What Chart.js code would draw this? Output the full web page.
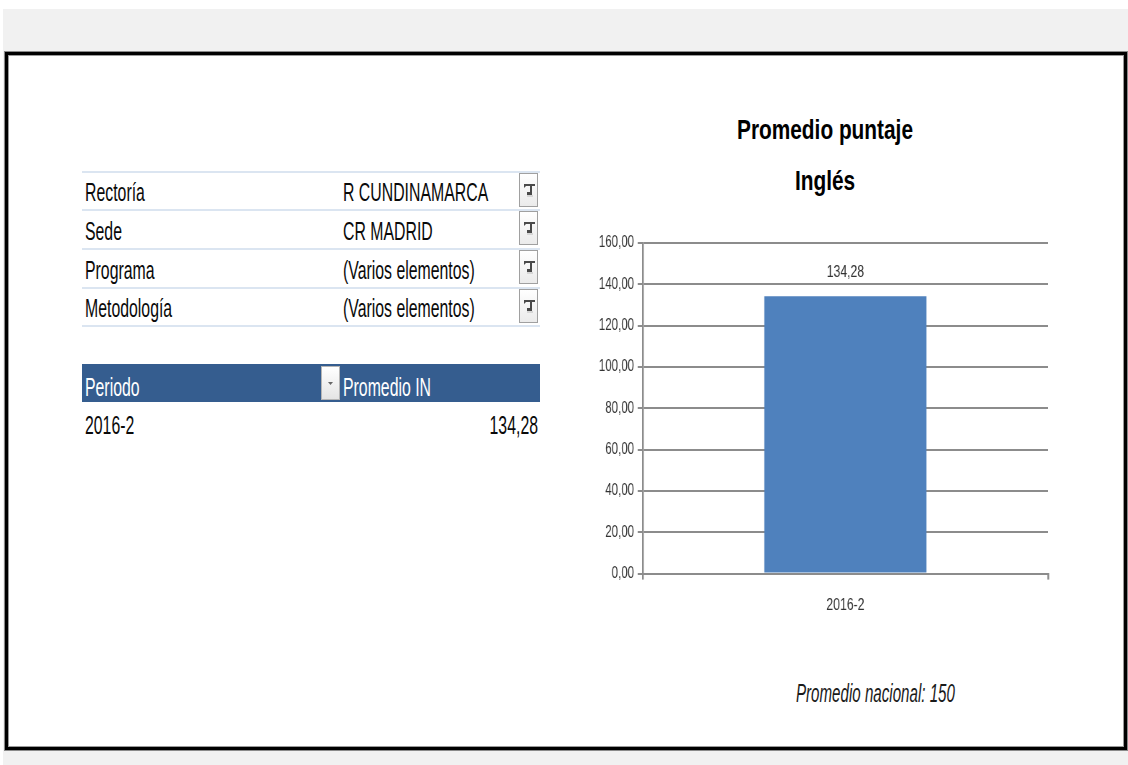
<!DOCTYPE html>
<html>
<head>
<meta charset="utf-8">
<script src="https://cdn.jsdelivr.net/npm/chart.js@4.4.0/dist/chart.umd.min.js"></script>
<style>
  html, body { margin: 0; padding: 0; background: #ffffff; width: 1128px; height: 765px; overflow: hidden; }
  body { position: relative; font-family: "Liberation Sans", Arial, sans-serif; }
  #bg { position: absolute; left: 3px; top: 9px; width: 1125px; height: 756px; background: #f1f1f1; }
  #sheet { position: absolute; left: 5px; top: 52px; width: 1116px; height: 692px; background: #fff;
           border: 3px solid #000; box-shadow: 0 0 0 1px #8a8a8a, inset 0 0 0 1px #9a9a9a; }
  .t { position: absolute; font-size: 22px; color: #0a0a0a; white-space: nowrap; line-height: 26px;
       transform: scale(0.72, 1.2); transform-origin: 0 50%; }
  .r { text-align: right; transform-origin: 100% 50%; }
  .hl { position: absolute; left: 82px; width: 458px; height: 2px; background: #dbe5f1; }
  .fb { position: absolute; left: 519px; width: 19px; height: 34px; border: 1px solid #a0a0a0;
        background: linear-gradient(#ffffff, #ebebeb); box-sizing: border-box; }
  .fb svg { position: absolute; left: 3px; top: 8px; }
  #hdr { position: absolute; left: 82px; top: 364px; width: 458px; height: 38px; background: #355d8f; }
  #dd { position: absolute; left: 321px; top: 366px; width: 19px; height: 34px; box-sizing: border-box;
        border: 1px solid #b5b5b5; background: linear-gradient(#ffffff, #e4e4e4); }
  .title { position: absolute; left: 625px; width: 400px; text-align: center; font-weight: bold;
           font-size: 28px; line-height: 32px; color: #000; transform: scaleX(0.744); transform-origin: 50% 50%; }
  #chartWrap { position: absolute; left: 570px; top: 220px; width: 680px; height: 420px;
               transform: scaleX(0.72); transform-origin: 0 0; }
</style>
</head>
<body>
<div id="bg"></div>
<div id="sheet"></div>

<!-- filter table -->
<div class="hl" style="top:171px"></div>
<div class="hl" style="top:209px"></div>
<div class="hl" style="top:248px"></div>
<div class="hl" style="top:287px"></div>
<div class="hl" style="top:325px"></div>

<div id="filters"></div>

<div id="hdr"></div>
<div id="dd"><svg width="17" height="32"><polygon points="6,15 11,15 8.5,18" fill="#666"/></svg></div>
<div class="t" style="left:85px; top:375px; color:#fff;">Periodo</div>
<div class="t" style="left:343px; top:375px; color:#fff;">Promedio IN</div>
<div id="rows"></div>

<div id="titles"></div>

<div class="t" style="left:796px; top:681px; font-style:italic; font-size:21px; color:#1a1a1a;">Promedio nacional: 150</div>

<div id="chartWrap"><canvas id="c"></canvas></div>

<script>
// ---- data ----
const filterNames = ["Rectoría", "Sede", "Programa", "Metodología"];
const filterValues = ["R CUNDINAMARCA", "CR MADRID", "(Varios elementos)", "(Varios elementos)"];
const categories = ["2016-2"];
const promedioIN = [134.28];
const yTicks = [0, 20, 40, 60, 80, 100, 120, 140, 160];
const titleLines = ["Promedio puntaje", "Inglés"];

const fmt = v => v.toFixed(2).replace(".", ",");

// ---- titles (HTML) ----
const titleTops = [114, 165];
const tWrap = document.getElementById("titles");
titleLines.forEach((s, i) => {
  const d = document.createElement("div");
  d.className = "title"; d.style.top = titleTops[i] + "px"; d.textContent = s;
  tWrap.appendChild(d);
});

// ---- filter rows (HTML) ----
const rowTops = [180, 219, 258, 296];
const btnTops = [173, 211, 250, 289];
const fWrap = document.getElementById("filters");
const funnel = '<svg width="13" height="16"><path d="M1,2 L12,2 L12,4 L9,4 L9,13 L4,13 L4,10 L7,10 L7,4 L3,4 L1,6 Z" fill="#4a4a4a"/><path d="M4,14 L10,14" stroke="#bbb" stroke-width="1"/></svg>';
filterNames.forEach((n, i) => {
  const a = document.createElement("div");
  a.className = "t"; a.style.left = "85px"; a.style.top = rowTops[i] + "px"; a.textContent = n;
  const b = document.createElement("div");
  b.className = "t"; b.style.left = "343px"; b.style.top = rowTops[i] + "px"; b.textContent = filterValues[i];
  const f = document.createElement("div");
  f.className = "fb"; f.style.top = btnTops[i] + "px";
  f.innerHTML = funnel;
  fWrap.appendChild(a); fWrap.appendChild(b); fWrap.appendChild(f);
});
const rWrap = document.getElementById("rows");
categories.forEach((c, i) => {
  const a = document.createElement("div");
  a.className = "t"; a.style.left = "85px"; a.style.top = (413 + i * 38) + "px"; a.textContent = c;
  const b = document.createElement("div");
  b.className = "t r"; b.style.left = "418px"; b.style.width = "120px"; b.style.top = (413 + i * 38) + "px";
  b.textContent = fmt(promedioIN[i]);
  rWrap.appendChild(a); rWrap.appendChild(b);
});

// ---- chart ----
const FONT = '"Liberation Sans", Arial, sans-serif';
const valueLabels = {
  id: "valueLabels",
  afterDatasetsDraw(chart) {
    const ctx = chart.ctx;
    ctx.save();
    ctx.font = "17px " + FONT;
    ctx.fillStyle = "#333";
    ctx.textAlign = "center";
    ctx.textBaseline = "middle";
    chart.getDatasetMeta(0).data.forEach((bar, i) => {
      ctx.fillText(fmt(chart.data.datasets[0].data[i]), bar.x, bar.y - 24);
    });
    ctx.restore();
  }
};

new Chart(document.getElementById("c"), {
  type: "bar",
  data: {
    labels: categories,
    datasets: [{
      data: promedioIN,
      backgroundColor: "#4f81bd",
      borderWidth: 0,
      barPercentage: 0.4,
      categoryPercentage: 1.0
    }]
  },
  plugins: [valueLabels],
  options: {
    responsive: true,
    maintainAspectRatio: false,
    animation: false,
    layout: { padding: { left: 0, right: 16, top: 23, bottom: 8 } },
    plugins: {
      legend: { display: false },
      tooltip: { enabled: false },
      title: { display: false }
    },
    scales: {
      y: {
        min: 0, max: 160,
        afterFit(s) { s.width = 101; },
        afterBuildTicks(s) { s.ticks = yTicks.map(v => ({ value: v })); },
        ticks: { callback: v => fmt(v), color: "#333", font: { family: FONT, size: 16 }, padding: 5 },
        grid: { color: "#8c8c8c", lineWidth: 2, tickLength: 7, drawTicks: true },
        border: { display: true, color: "#8c8c8c", width: 2.5 }
      },
      x: {
        offset: true,
        ticks: { color: "#333", font: { family: FONT, size: 17 }, padding: 16 },
        grid: { display: true, drawOnChartArea: false, offset: true, color: "#8c8c8c", lineWidth: 2.5, tickLength: 6 },
        border: { display: true, color: "#8c8c8c", width: 2 }
      }
    }
  }
});
</script>
</body>
</html>
